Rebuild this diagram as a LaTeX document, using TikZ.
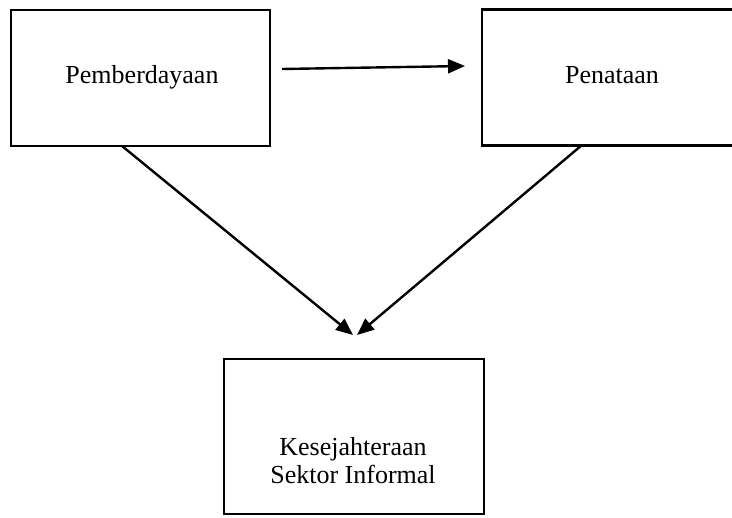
\documentclass[tikz,border=0pt]{standalone}
\usepackage{fontspec}
\setmainfont{Liberation Serif}
\usetikzlibrary{arrows.meta}
\begin{document}
\begin{tikzpicture}[x=1pt,y=-1pt,
  boxnode/.style={draw=black,line width=2.4pt,fill=none,inner sep=0pt},
  lbl/.style={font=\fontsize{26}{28}\selectfont,align=center,inner sep=0pt},
  conn/.style={line width=2.4pt,-{Triangle[length=17pt,width=14pt]}}]
\useasboundingbox (0,0) rectangle (732,518);
\clip (0,0) rectangle (732,518);
\fill[white] (0,0) rectangle (732,518);
% boxes
\node[boxnode,minimum width=259pt,minimum height=136pt] (b1) at (140.5,78) {};
\node[boxnode,minimum width=260pt,minimum height=136pt] (b2) at (612,77.5) {};
\node[boxnode,minimum width=260pt,minimum height=155pt] (b3) at (354,436.5) {};
% labels
\node[lbl] (t1) at (142,77) {Pemberdayaan};
\node[lbl] (t2) at (612,75) {Penataan};
\node[lbl] (t3) at (353,461) {Kesejahteraan\\Sektor Informal};
% connector end points
\coordinate (h1) at (282,69);
\coordinate (h2) at (465,66);
\coordinate (d1s) at (122,146);
\coordinate (d1e) at (353,335);
\coordinate (d2s) at (582,145);
\coordinate (d2e) at (357,335);
\draw[conn] (h1) -- (h2);
\draw[conn] (d1s) -- (d1e);
\draw[conn] (d2s) -- (d2e);
\end{tikzpicture}
\end{document}
